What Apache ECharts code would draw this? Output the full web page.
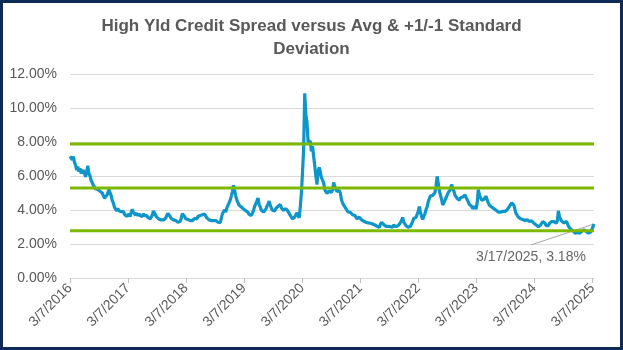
<!DOCTYPE html>
<html>
<head>
<meta charset="utf-8">
<script src="https://cdn.jsdelivr.net/npm/echarts@6/dist/echarts.min.js"></script>
<style>
  html, body { margin: 0; padding: 0; background: #fff; }
  #wrap { position: relative; width: 623px; height: 350px; }
  #chart { width: 623px; height: 350px; }
  #frame { position: absolute; left: 0; top: 0; width: 623px; height: 350px;
           box-sizing: border-box; border: 3px solid #0E2A56; pointer-events: none; }
</style>
</head>
<body>
<div id="wrap"><div id="chart"></div><div id="frame"></div></div>
<script>
// Weekly high-yield credit spread (%), sampled every Monday from 3/7/2016
const seriesStart = '2016-03-07';
const seriesEnd = '2025-03-17';
const stepDays = 7;

const spread2016 = [7.15, 7.25, 6.95, 7.15, 6.8, 6.65, 6.35, 6.55, 6.25, 6.45, 6.15, 6.05, 6.35, 6.15, 5.95, 6.25, 6.6, 6.15, 6.0, 5.75,
  5.65, 5.45, 5.4, 5.25, 5.3, 5.2, 5.25, 5.1, 5.15, 5.0, 4.9, 4.7, 4.65, 4.85, 5.0, 5.2, 5.0, 4.85, 4.55, 4.4,
  4.15, 4.15, 3.95, 4.1, 3.95, 3.85, 3.9, 3.82, 3.9, 3.75, 3.7, 3.62];
const spread2017 = [3.6, 3.75, 3.62, 3.85, 4.05, 3.85, 3.82, 3.7, 3.82, 3.66, 3.78, 3.66, 3.7, 3.62, 3.78, 3.66, 3.6, 3.68, 3.56, 3.58,
  3.48, 3.55, 3.7, 3.95, 3.8, 3.72, 3.58, 3.58, 3.46, 3.52, 3.42, 3.52, 3.42, 3.4, 3.52, 3.68, 3.8, 3.7, 3.62, 3.5,
  3.52, 3.42, 3.5, 3.38, 3.36, 3.28, 3.34, 3.32, 3.52, 3.78, 3.76, 3.62];
const spread2018 = [3.48, 3.58, 3.44, 3.52, 3.38, 3.48, 3.38, 3.46, 3.5, 3.58, 3.48, 3.62, 3.52, 3.68, 3.58, 3.72, 3.62, 3.76, 3.66, 3.54,
  3.5, 3.42, 3.52, 3.38, 3.46, 3.38, 3.46, 3.38, 3.36, 3.28, 3.2, 3.26, 3.5, 3.78, 3.78, 4.02, 3.88, 4.12, 4.28, 4.42,
  4.58, 4.82, 5.1, 5.45, 5.15, 4.82, 4.58, 4.48, 4.28, 4.26, 4.18, 4.12];
const spread2019 = [4.05, 3.98, 3.96, 3.88, 3.86, 3.74, 3.72, 3.68, 3.82, 3.98, 4.22, 4.32, 4.52, 4.7, 4.32, 4.18, 3.98, 3.96, 3.88, 3.98,
  4.04, 4.22, 4.34, 4.52, 4.28, 4.12, 3.98, 3.92, 3.94, 4.08, 4.08, 4.22, 4.22, 4.32, 4.12, 4.08, 3.98, 4.08, 4.08, 4.18,
  3.92, 3.82, 3.68, 3.58, 3.48, 3.58, 3.58, 3.72, 3.84, 3.66, 3.54, 4.2];
const spread2020 = [5.0, 6.2, 7.6, 10.87, 9.6, 9.2, 8.0, 7.9, 8.05, 7.45, 7.75, 7.15, 6.6, 6.0, 5.5, 6.3, 6.5, 6.25, 5.9, 6.0,
  5.6, 5.2, 5.12, 4.98, 4.96, 5.12, 5.02, 5.04, 5.18, 5.62, 5.38, 5.22, 5.08, 5.18, 5.16, 5.0, 4.6, 4.42, 4.28, 4.22,
  4.08, 4.02, 3.88, 3.88, 3.86, 3.82, 3.72, 3.82, 3.68, 3.62, 3.48, 3.52];
const spread2021 = [3.58, 3.56, 3.42, 3.42, 3.34, 3.36, 3.28, 3.32, 3.24, 3.32, 3.22, 3.3, 3.18, 3.16, 3.12, 3.12, 3.04, 3.02, 2.98, 3.16,
  3.28, 3.2, 3.14, 3.12, 3.04, 3.12, 3.04, 3.12, 3.02, 3.02, 2.98, 3.12, 3.02, 3.02, 2.98, 3.08, 3.14, 3.26, 3.38, 3.56,
  3.28, 3.22, 3.08, 3.06, 2.98, 3.02, 3.04, 3.18, 3.32, 3.52, 3.58, 3.56];
const spread2022 = [3.64, 3.92, 4.2, 3.88, 3.62, 3.44, 3.62, 3.78, 4.02, 4.18, 4.48, 4.68, 4.82, 4.88, 4.86, 4.94, 5.02, 5.4, 5.98, 5.58,
  5.12, 4.88, 4.62, 4.3, 4.42, 4.48, 4.72, 4.78, 5.02, 5.08, 5.22, 5.5, 5.28, 5.12, 4.88, 4.82, 4.68, 4.62, 4.58, 4.72,
  4.78, 4.76, 4.82, 4.88, 4.74, 4.72, 4.48, 4.32, 4.24, 4.22, 4.08, 4.16];
const spread2023 = [4.22, 4.04, 4.42, 5.2, 4.88, 4.72, 4.58, 4.52, 4.62, 4.68, 4.82, 4.58, 4.42, 4.28, 4.26, 4.18, 4.16, 4.08, 4.06, 3.98,
  3.96, 3.88, 3.96, 3.88, 3.86, 3.92, 3.84, 3.92, 3.94, 4.02, 4.08, 4.22, 4.28, 4.42, 4.5, 4.28, 4.02, 3.78, 3.72, 3.58,
  3.56, 3.48, 3.52, 3.44, 3.42, 3.38, 3.36, 3.42, 3.34, 3.32, 3.28, 3.36];
const spread2024 = [3.28, 3.22, 3.12, 3.12, 3.02, 3.02, 3.04, 3.12, 3.18, 3.32, 3.22, 3.22, 3.08, 3.06, 3.08, 3.22, 3.14, 3.32, 3.38, 3.32,
  3.24, 3.22, 3.35, 3.95, 3.58, 3.46, 3.34, 3.32, 3.24, 3.32, 3.34, 3.22, 3.04, 2.96, 2.88, 2.86, 2.78, 2.76, 2.64, 2.68,
  2.68, 2.72, 2.64, 2.72, 2.74, 2.82, 2.84, 2.86, 2.74, 2.72, 2.64, 2.66, 2.7, 2.85, 3.0, 3.18];

// Average and +1 / -1 standard deviation levels (%)
const bandNames = ['+1 Std Dev', 'Average', '-1 Std Dev'];
const bandLevels = [7.88, 5.29, 2.78];

// Dates shown under the x axis
const tickDates = ['2016-03-07', '2017-03-07', '2018-03-07', '2019-03-07', '2020-03-07',
  '2021-03-07', '2022-03-07', '2023-03-07', '2024-03-07', '2025-03-07'];

// The x axis counts days from the first observation
const DAY = 86400000;
const toTs = s => { const p = s.split('-').map(Number); return Date.UTC(p[0], p[1] - 1, p[2]); };
const startTs = toTs(seriesStart);
const toDay = s => Math.round((toTs(s) - startTs) / DAY);
const fmtDay = day => {
  const d = new Date(startTs + Math.round(day) * DAY);
  return (d.getUTCMonth() + 1) + '/' + d.getUTCDate() + '/' + d.getUTCFullYear();
};

const endDay = toDay(seriesEnd);
const spreadValues = [].concat(spread2016, spread2017, spread2018, spread2019, spread2020,
  spread2021, spread2022, spread2023, spread2024);
const spreadData = spreadValues.map((v, i) => [i * stepDays, v]);
const lastPoint = spreadData[spreadData.length - 1];
const tickDays = tickDates.map(toDay);

const FONT = '"Liberation Sans", Arial, sans-serif';
const GREY = '#595959';

// Callout for the latest reading sits below-left of the point
const calloutShift = [-63, 33];

const chart = echarts.init(document.getElementById('chart'), null, { renderer: 'canvas' });
chart.setOption({
  animation: false,
  title: {
    text: 'High Yld Credit Spread versus Avg & +1/-1 Standard\nDeviation',
    left: 'center',
    top: 10,
    textStyle: { fontFamily: FONT, fontSize: 17, fontWeight: 'bold', color: GREY, lineHeight: 23 }
  },
  grid: { left: 70, right: 29, top: 74, bottom: 72, outerBoundsMode: 'none' },
  xAxis: {
    type: 'value',
    min: 0,
    max: endDay,
    axisLine: { lineStyle: { color: '#d9d9d9', width: 1 } },
    axisTick: { show: true, length: 5, lineStyle: { color: '#bfbfbf' }, customValues: tickDays },
    axisLabel: {
      customValues: tickDays,
      formatter: v => fmtDay(v),
      rotate: 45,
      margin: 8,
      padding: [6, 0, 0, 0],
      color: GREY,
      fontFamily: FONT,
      fontSize: 14,
      hideOverlap: false
    },
    splitLine: { show: false }
  },
  yAxis: {
    type: 'value',
    min: 0,
    max: 12,
    interval: 2,
    axisLine: { show: false },
    axisTick: { show: false },
    axisLabel: { formatter: v => v.toFixed(2) + '%', color: GREY, fontFamily: FONT, fontSize: 14, margin: 13 },
    splitLine: { lineStyle: { color: '#d9d9d9', width: 1 } }
  },
  series: [
    {
      name: 'High Yld Credit Spread',
      type: 'line',
      data: spreadData,
      showSymbol: false,
      symbol: 'none',
      lineStyle: { color: '#0E95CA', width: 3.2 },
      z: 2
    }
  ].concat(bandLevels.map((lvl, i) => ({
    name: bandNames[i],
    type: 'line',
    data: [[0, lvl], [endDay, lvl]],
    showSymbol: false,
    symbol: 'none',
    lineStyle: { color: '#7CB900', width: 3 },
    z: 3
  }))).concat([
    {
      name: 'Latest',
      type: 'scatter',
      data: [lastPoint],
      symbolSize: 1,
      itemStyle: { color: 'rgba(0,0,0,0)' },
      label: {
        show: true,
        position: 'inside',
        formatter: p => fmtDay(p.value[0]) + ', ' + p.value[1].toFixed(2) + '%',
        color: '#404040',
        fontFamily: FONT,
        fontSize: 14
      },
      labelLayout: { dx: calloutShift[0], dy: calloutShift[1] },
      z: 4
    }
  ])
});

// Leader line from the latest point to the top of its callout text
const anchor = chart.convertToPixel({ gridIndex: 0 }, lastPoint);
chart.setOption({
  graphic: [{
    type: 'line',
    silent: true,
    z: 1,
    shape: {
      x1: anchor[0], y1: anchor[1],
      x2: anchor[0] + calloutShift[0], y2: anchor[1] + calloutShift[1] - 12
    },
    style: { stroke: '#a6a6a6', lineWidth: 1 }
  }]
});
</script>
</body>
</html>
